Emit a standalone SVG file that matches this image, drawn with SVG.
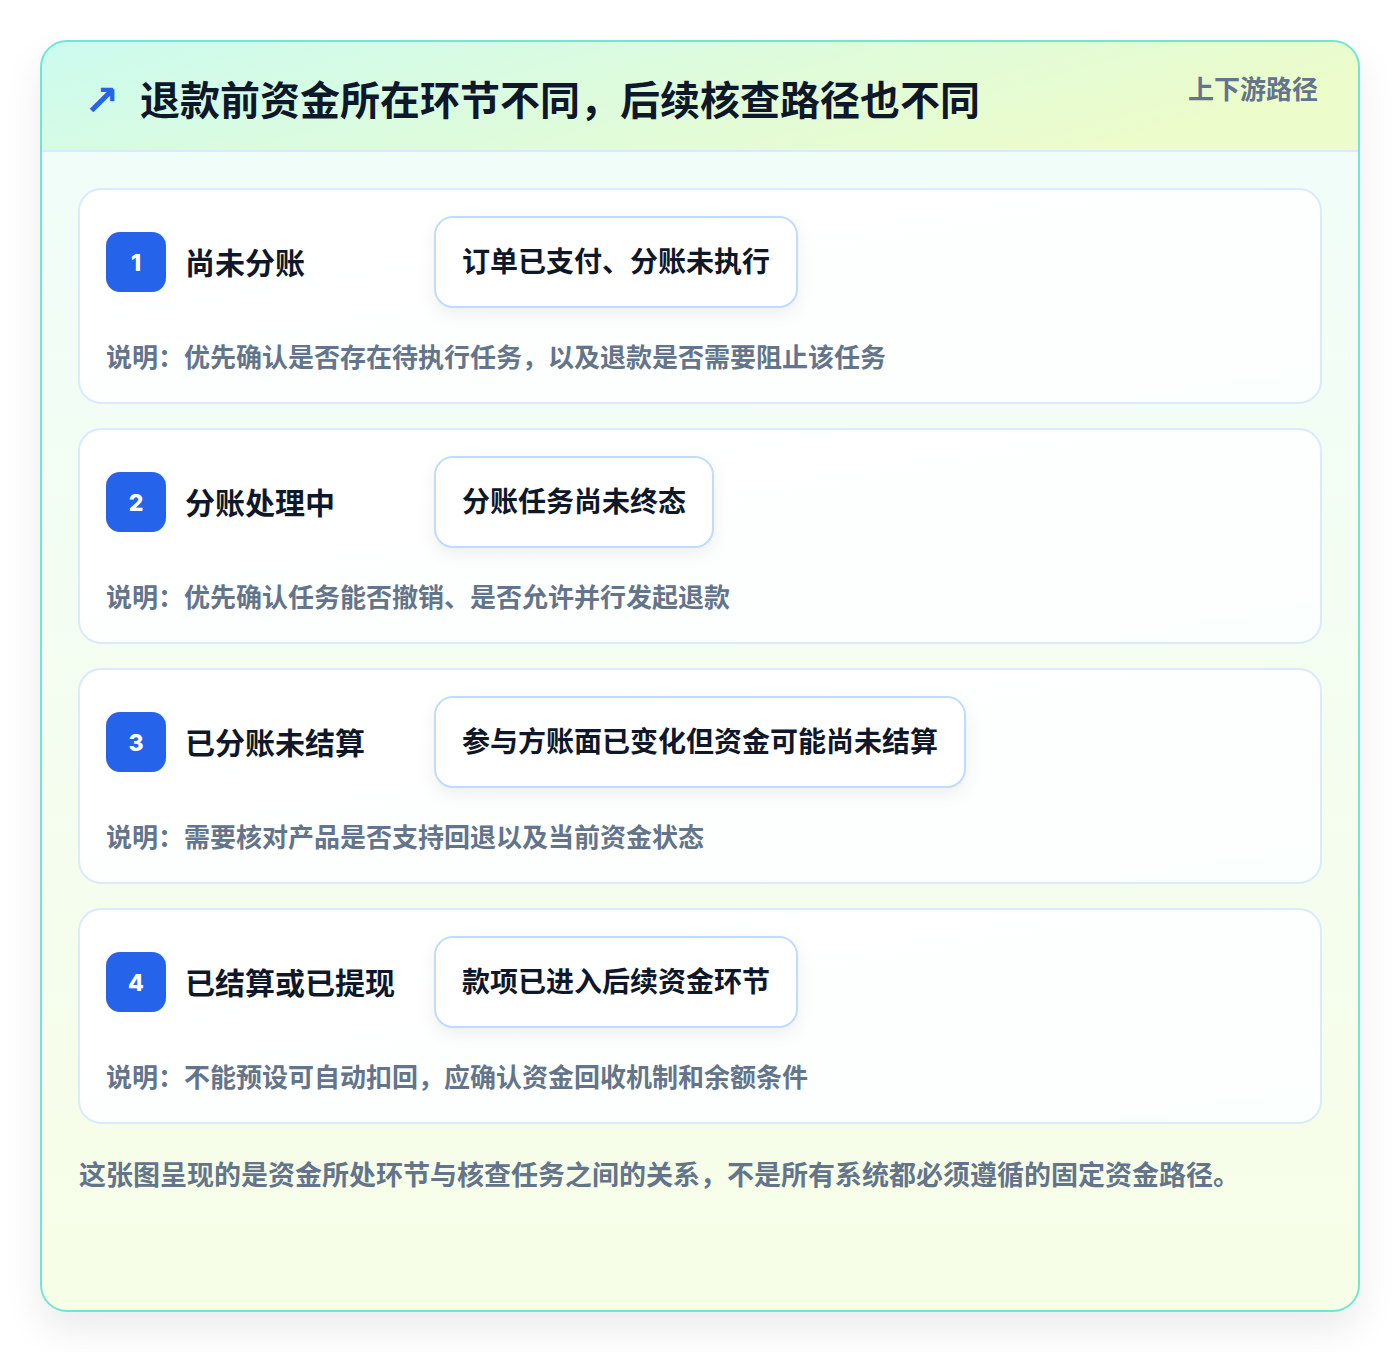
<svg xmlns="http://www.w3.org/2000/svg" width="1400" height="1352" viewBox="0 0 1400 1352">
<defs>
<linearGradient id="hdr" x1="0" y1="0" x2="1" y2="0.3">
<stop offset="0" stop-color="#ccfbef"/>
<stop offset="1" stop-color="#ecfccb"/>
</linearGradient>
<linearGradient id="body" x1="0" y1="0" x2="0" y2="1">
<stop offset="0" stop-color="#f0fdfa"/>
<stop offset="1" stop-color="#f7fee7"/>
</linearGradient>
<linearGradient id="cardfill" x1="0" y1="0" x2="1" y2="1">
<stop offset="0" stop-color="#ffffff"/>
<stop offset="1" stop-color="#fbfffd"/>
</linearGradient>
<filter id="outerShadow" x="-10%" y="-10%" width="120%" height="120%">
<feDropShadow dx="0" dy="18" stdDeviation="18" flood-color="#0f172a" flood-opacity="0.08"/>
</filter>
<filter id="pillShadow" x="-20%" y="-40%" width="140%" height="180%">
<feDropShadow dx="0" dy="6" stdDeviation="8" flood-color="#0f172a" flood-opacity="0.06"/>
</filter>
<clipPath id="cardClip"><rect x="41" y="41" width="1318" height="1270" rx="26"/></clipPath>
</defs>
<style>
.card{fill:url(#cardfill);stroke:#dbeafe;stroke-width:2}
.badge{fill:#2563eb}
.num{font-family:"Inter","Liberation Sans",sans-serif;font-weight:800;font-size:23px;fill:#ffffff;text-anchor:middle}
.lbl{font-family:"Noto Sans CJK SC","Noto Sans",sans-serif;font-weight:700;font-size:30px;fill:#0f172a}
.pill{fill:#ffffff;stroke:#bfdbfe;stroke-width:2}
.ptxt{font-family:"Noto Sans CJK SC","Noto Sans",sans-serif;font-weight:700;font-size:28px;fill:#0f172a;text-anchor:middle}
.desc{font-family:"Noto Sans CJK SC","Noto Sans",sans-serif;font-weight:700;font-size:26px;fill:#64748b}
</style>
<rect x="0" y="0" width="1400" height="1352" fill="#ffffff"/>
<g id="frame">
<rect x="41" y="41" width="1318" height="1270" rx="26" fill="url(#body)" filter="url(#outerShadow)"/>
<g clip-path="url(#cardClip)">
<rect x="41" y="41" width="1318" height="110" fill="url(#hdr)"/>
<line x1="41" y1="151" x2="1359" y2="151" stroke="#dbeafe" stroke-width="2"/>
</g>
<rect x="41" y="41" width="1318" height="1270" rx="26" fill="none" stroke="#6ee7d4" stroke-width="2"/>
</g>
<g id="header">
<text x="84" y="115" font-family="DejaVu Sans,sans-serif" font-weight="700" font-size="42" fill="#2563eb">↗</text>
<text x="140" y="115" font-family="Noto Sans CJK SC,Noto Sans,sans-serif" font-weight="700" font-size="40" fill="#0f172a">退款前资金所在环节不同，后续核查路径也不同</text>
<text x="1318" y="99" text-anchor="end" font-family="Noto Sans CJK SC,Noto Sans,sans-serif" font-weight="700" font-size="26" fill="#64748b">上下游路径</text>
</g>
<g id="connectors"/>
<g id="node1">
<rect class="card" x="79" y="189" width="1242" height="214" rx="22"/>
<rect class="badge" x="106" y="232" width="60" height="60" rx="14"/>
<text class="num" x="136" y="271">1</text>
<text class="lbl" x="185" y="274">尚未分账</text>
<rect class="pill" x="435" y="217" width="362" height="90" rx="18" filter="url(#pillShadow)"/>
<text class="ptxt" x="616" y="272">订单已支付、分账未执行</text>
<text class="desc" x="106" y="367">说明：优先确认是否存在待执行任务，以及退款是否需要阻止该任务</text>
</g>
<g id="node2">
<rect class="card" x="79" y="429" width="1242" height="214" rx="22"/>
<rect class="badge" x="106" y="472" width="60" height="60" rx="14"/>
<text class="num" x="136" y="511">2</text>
<text class="lbl" x="185" y="514">分账处理中</text>
<rect class="pill" x="435" y="457" width="278" height="90" rx="18" filter="url(#pillShadow)"/>
<text class="ptxt" x="574" y="512">分账任务尚未终态</text>
<text class="desc" x="106" y="607">说明：优先确认任务能否撤销、是否允许并行发起退款</text>
</g>
<g id="node3">
<rect class="card" x="79" y="669" width="1242" height="214" rx="22"/>
<rect class="badge" x="106" y="712" width="60" height="60" rx="14"/>
<text class="num" x="136" y="751">3</text>
<text class="lbl" x="185" y="754">已分账未结算</text>
<rect class="pill" x="435" y="697" width="530" height="90" rx="18" filter="url(#pillShadow)"/>
<text class="ptxt" x="700" y="752">参与方账面已变化但资金可能尚未结算</text>
<text class="desc" x="106" y="847">说明：需要核对产品是否支持回退以及当前资金状态</text>
</g>
<g id="node4">
<rect class="card" x="79" y="909" width="1242" height="214" rx="22"/>
<rect class="badge" x="106" y="952" width="60" height="60" rx="14"/>
<text class="num" x="136" y="991">4</text>
<text class="lbl" x="185" y="994">已结算或已提现</text>
<rect class="pill" x="435" y="937" width="362" height="90" rx="18" filter="url(#pillShadow)"/>
<text class="ptxt" x="616" y="992">款项已进入后续资金环节</text>
<text class="desc" x="106" y="1087">说明：不能预设可自动扣回，应确认资金回收机制和余额条件</text>
</g>
<g id="footer">
<text x="79" y="1185" font-family="Noto Sans CJK SC,Noto Sans,sans-serif" font-weight="700" font-size="27" fill="#64748b">这张图呈现的是资金所处环节与核查任务之间的关系，不是所有系统都必须遵循的固定资金路径。</text>
</g>
</svg>
